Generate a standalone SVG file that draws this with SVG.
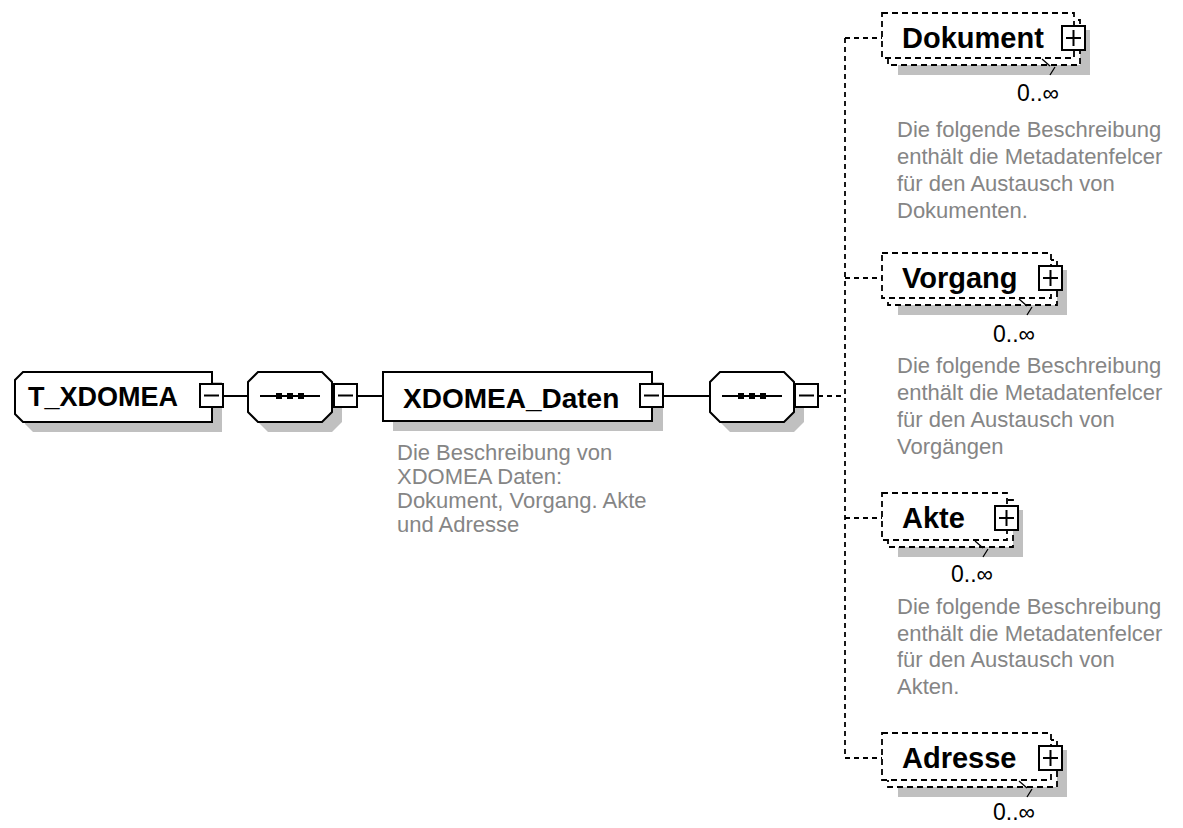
<svg xmlns="http://www.w3.org/2000/svg" xmlns:xlink="http://www.w3.org/1999/xlink" width="1183" height="828" viewBox="0 0 1183 828">
<style>
.bg{fill:#fff}
.shadow{fill:#c0c0c0}
.box{fill:#fff;stroke:#000;stroke-width:2}
.dbox{fill:#fff;stroke:#000;stroke-width:1.8;stroke-dasharray:6 4}
.conn{stroke:#000;stroke-width:2;fill:none}
.dconn{stroke:#000;stroke-width:1.8;fill:none;stroke-dasharray:5 4}
.tick{stroke:#000;stroke-width:1.3;fill:none}
.title{font-family:"Liberation Sans",Arial,sans-serif;font-weight:bold;font-size:28px;fill:#000}
.desc{font-family:"Liberation Sans",Arial,sans-serif;font-size:22px;fill:#858585}
.occ{font-family:"Liberation Sans",Arial,sans-serif;font-size:23px;fill:#000;text-anchor:middle}
</style>
<defs>
<g id="minus"><rect class="box" x="0" y="0" width="23" height="23"/><line class="conn" x1="4" y1="11.5" x2="19" y2="11.5"/></g>
<g id="plus"><rect class="box" x="0" y="0" width="23" height="24"/><line class="conn" x1="4" y1="12" x2="19" y2="12"/><line class="conn" x1="11.5" y1="4" x2="11.5" y2="20"/></g>
<g id="seq">
<path class="shadow" d="M20,10 H84 L94,20 V50 L84,60 H20 L10,50 V20 Z"/>
<path class="box" d="M10,0 H74 L84,10 V40 L74,50 H10 L0,40 V10 Z"/>
<line class="conn" x1="12" y1="24" x2="72" y2="24"/>
<rect x="28" y="21" width="6" height="6" fill="#000"/>
<rect x="39" y="21" width="6" height="6" fill="#000"/>
<rect x="50" y="21" width="6" height="6" fill="#000"/>
</g>
</defs>
<rect class="bg" x="0" y="0" width="1183" height="828"/>

<g id="connectors">
<line class="conn" x1="223" y1="396" x2="248" y2="396"/>
<line class="conn" x1="357" y1="396" x2="383" y2="396"/>
<line class="conn" x1="663" y1="396" x2="710" y2="396"/>
<line class="dconn" x1="818" y1="396" x2="845" y2="396"/>
<line class="dconn" x1="845" y1="38" x2="845" y2="758"/>
<line class="dconn" x1="845" y1="38" x2="882" y2="38"/>
<line class="dconn" x1="845" y1="278" x2="882" y2="278"/>
<line class="dconn" x1="845" y1="518" x2="882" y2="518"/>
<line class="dconn" x1="845" y1="758" x2="882" y2="758"/>
</g>

<g id="node-T_XDOMEA">
<path class="shadow" d="M33,382 H222 V432 H33 L25,424 V390 Z"/>
<path class="box" d="M23,372 H212 V422 H23 L15,414 V380 Z"/>
<text class="title" x="28" y="406" style="font-size:27px">T_XDOMEA</text>
<use xlink:href="#minus" x="200" y="384"/>
</g>

<g id="node-seq1">
<use xlink:href="#seq" x="248" y="372"/>
<use xlink:href="#minus" x="334" y="384"/>
</g>

<g id="node-XDOMEA_Daten">
<rect class="shadow" x="393" y="382" width="270" height="49"/>
<rect class="box" x="383" y="372" width="269" height="49"/>
<text class="title" x="403" y="408">XDOMEA_Daten</text>
<use xlink:href="#minus" x="640" y="384"/>
<text class="desc" x="397" y="460">Die Beschreibung von</text>
<text class="desc" x="397" y="484">XDOMEA Daten:</text>
<text class="desc" x="397" y="508">Dokument, Vorgang. Akte</text>
<text class="desc" x="397" y="532">und Adresse</text>
</g>

<g id="node-seq2">
<use xlink:href="#seq" x="710" y="372"/>
<use xlink:href="#minus" x="795" y="384"/>
</g>

<g id="node-Dokument">
<rect class="shadow" x="898" y="30" width="192" height="45"/>
<rect class="dbox" x="888" y="20" width="192" height="45"/>
<rect class="dbox" x="882" y="13" width="192" height="45"/>
<path class="tick" d="M1042,59 l8,7 M1055,67 l-5,8"/>
<text class="title" x="902" y="48" style="font-size:29px">Dokument</text>
<use xlink:href="#plus" x="1062" y="26"/>
<text class="occ" x="1038" y="101">0..∞</text>
<text class="desc" x="897" y="137">Die folgende Beschreibung</text>
<text class="desc" x="897" y="164">enthält die Metadatenfelcer</text>
<text class="desc" x="897" y="191">für den Austausch von</text>
<text class="desc" x="897" y="218">Dokumenten.</text>
</g>

<g id="node-Vorgang">
<rect class="shadow" x="898" y="270" width="169" height="45"/>
<rect class="dbox" x="888" y="260" width="169" height="45"/>
<rect class="dbox" x="882" y="253" width="169" height="45"/>
<path class="tick" d="M1019,299 l8,7 M1032,307 l-5,8"/>
<text class="title" x="902" y="288" style="font-size:29px">Vorgang</text>
<use xlink:href="#plus" x="1039" y="266"/>
<text class="occ" x="1014" y="342">0..∞</text>
<text class="desc" x="897" y="373">Die folgende Beschreibung</text>
<text class="desc" x="897" y="400">enthält die Metadatenfelcer</text>
<text class="desc" x="897" y="427">für den Austausch von</text>
<text class="desc" x="897" y="454">Vorgängen</text>
</g>

<g id="node-Akte">
<rect class="shadow" x="898" y="510" width="125" height="47"/>
<rect class="dbox" x="888" y="500" width="125" height="47"/>
<rect class="dbox" x="882" y="493" width="125" height="47"/>
<path class="tick" d="M975,541 l8,7 M988,549 l-5,8"/>
<text class="title" x="902" y="528" style="font-size:29px">Akte</text>
<use xlink:href="#plus" x="995" y="506"/>
<text class="occ" x="972" y="582">0..∞</text>
<text class="desc" x="897" y="614">Die folgende Beschreibung</text>
<text class="desc" x="897" y="641">enthält die Metadatenfelcer</text>
<text class="desc" x="897" y="667">für den Austausch von</text>
<text class="desc" x="897" y="694">Akten.</text>
</g>

<g id="node-Adresse">
<rect class="shadow" x="898" y="750" width="169" height="47"/>
<rect class="dbox" x="888" y="740" width="169" height="47"/>
<rect class="dbox" x="882" y="733" width="169" height="47"/>
<path class="tick" d="M1019,781 l8,7 M1032,789 l-5,8"/>
<text class="title" x="902" y="768" style="font-size:29px">Adresse</text>
<use xlink:href="#plus" x="1039" y="746"/>
<text class="occ" x="1014" y="820">0..∞</text>
</g>
</svg>
